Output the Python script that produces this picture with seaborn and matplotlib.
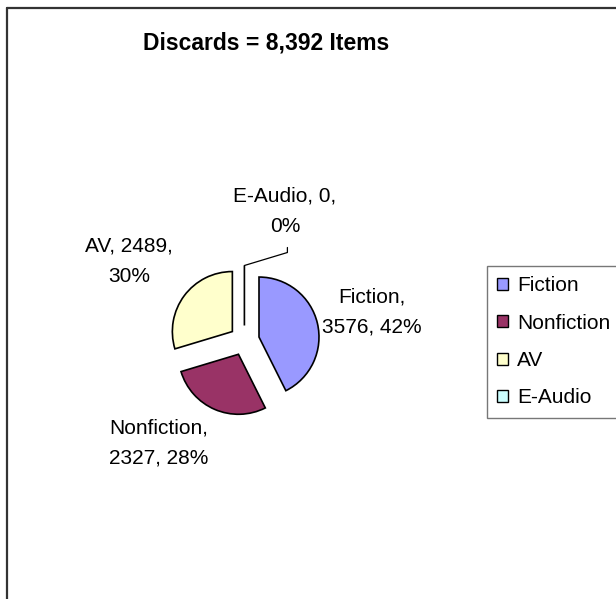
import matplotlib
matplotlib.use("Agg")
import matplotlib.pyplot as plt
import seaborn as sns
from matplotlib.lines import Line2D
from matplotlib.patches import Patch

# chart data
categories = ["Fiction", "Nonfiction", "AV", "E-Audio"]
counts = [3576, 2327, 2489, 0]
pct_labels = [42, 28, 30, 0]
colors = ["#9999FF", "#993366", "#FFFFCC", "#CCFFFF"]
title = "Discards = 8,392 Items"

# where the label text wraps: after the name, or after the count
break_after_name = [True, True, False, False]

sns.set_theme(style="white")
plt.rcParams["font.family"] = ["Liberation Sans", "DejaVu Sans"]

W, H = 616, 599
fig = plt.figure(figsize=(W / 100, H / 100), dpi=100)
ax = fig.add_axes([0, 0, 1, 1])

# explode is in data units here (pixels), since the axes is in pixel coords
wedges, _ = ax.pie(counts, colors=colors, startangle=90, counterclock=False,
                   center=(244.4, H - 340.5), radius=60, explode=[15] * 4,
                   wedgeprops=dict(edgecolor="black", linewidth=1.2))
ax.set_xlim(0, W)
ax.set_ylim(0, H)
ax.set_aspect("equal")
ax.axis("off")

# data labels (positions in pixel coordinates, y measured from top)
label_pos = [(372, 312), (159, 443), (129, 261), (285, 211)]
for cat, cnt, pct, brk, (lx, ly) in zip(categories, counts, pct_labels, break_after_name, label_pos):
    if brk:
        txt = f"{cat},\n{cnt}, {pct}%"
    else:
        txt = f"{cat}, {cnt},\n{pct}%"
    ax.text(lx, H - ly, txt, ha="center", va="center", fontsize=15,
            linespacing=1.75, color="black")

# leader line for the empty E-Audio slice
w = wedges[3]
tip_x, tip_y = w.center[0], w.center[1] + w.r
ax.plot([tip_x, tip_x + 43, tip_x + 43], [tip_y, tip_y + 13, tip_y + 18],
        color="black", lw=0.9)

fig.text(266 / W, 1 - 43 / H, title, ha="center", va="center",
         fontsize=16.5, fontweight="bold", color="black")

handles = [Patch(facecolor=c, edgecolor="black", lw=1) for c in colors]
leg = fig.legend(handles, categories, loc="upper left",
                 bbox_to_anchor=(487 / W, 1 - 266 / H), fontsize=15,
                 fancybox=False, frameon=True, handlelength=0.5, handleheight=0.5,
                 handletextpad=0.45, labelspacing=0.88, borderpad=0.5,
                 borderaxespad=0)
for t in leg.get_texts():
    t.set_color("black")
leg.get_frame().set_edgecolor("#555555")
leg.get_frame().set_linewidth(1.0)

# chart area border (left and top edges visible)
fig.add_artist(Line2D([6.5 / W, 6.5 / W], [0, 1 - 8 / H], color="#333333", lw=1.6))
fig.add_artist(Line2D([6.5 / W, 1], [1 - 8 / H, 1 - 8 / H], color="#333333", lw=1.6))

fig.savefig("out.png", dpi=100, facecolor="white")
